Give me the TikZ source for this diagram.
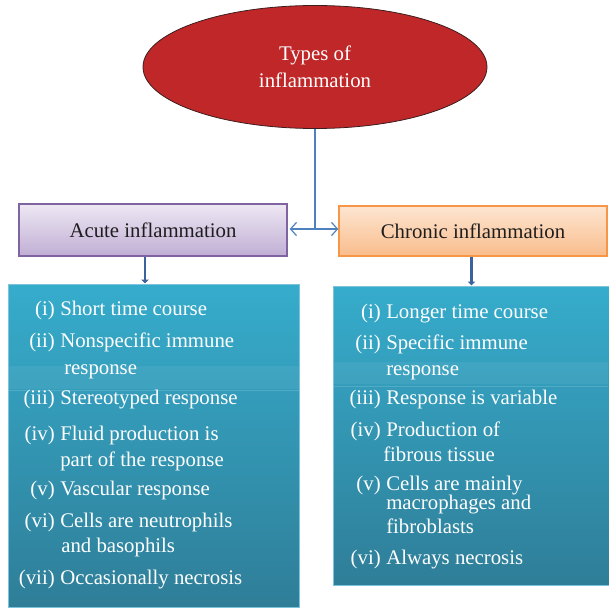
\documentclass[tikz,border=0pt]{standalone}
\usepackage{amsmath}
\usepackage{fontspec}
\setmainfont{Liberation Serif}
\usepackage{tikz}
\usetikzlibrary{shapes.geometric,arrows.meta}

\definecolor{typesred}{RGB}{192,39,41}
\definecolor{acutetop}{RGB}{238,232,244}
\definecolor{acutebot}{RGB}{192,174,212}
\definecolor{acuteedge}{RGB}{128,100,162}
\definecolor{chrontop}{RGB}{253,229,209}
\definecolor{chronbot}{RGB}{249,189,140}
\definecolor{chronedge}{RGB}{247,150,70}
\definecolor{listtop}{RGB}{54,172,204}
\definecolor{listbot}{RGB}{47,126,152}
\definecolor{listedge}{RGB}{125,195,218}
\definecolor{linkblue}{RGB}{79,129,189}
\definecolor{downblue}{RGB}{60,98,158}

\tikzset{
  headtext/.style={font=\fontsize{15.6}{20.25}\selectfont},
  listtext/.style={anchor=base west,inner sep=0pt,text=white,font=\fontsize{15.6}{19}\selectfont},
  listlabel/.style={listtext,anchor=base east},
}

\begin{document}
\begin{tikzpicture}[x=0.75pt,y=0.75pt,yscale=-1,xscale=1]
\useasboundingbox (0,0) rectangle (608,610);

%Shape: Ellipse
\node [ellipse,draw={rgb,255:red,60;green,30;blue,30},line width=0.6pt,fill=typesred,minimum width=258pt,minimum height=92.25pt,inner sep=0pt,headtext,text=white,align=center] (types) at (315,67) {Types of\\inflammation};

%Shape: Rectangle
\node [draw=acuteedge,line width=1.1pt,top color=acutetop,bottom color=acutebot,minimum width=201pt,minimum height=39pt,inner sep=0pt,headtext,text={rgb,255:red,30;green,30;blue,30}] (acute) at (153,230) {Acute inflammation};
%Shape: Rectangle
\node [draw=chronedge,line width=1.1pt,top color=chrontop,bottom color=chronbot,minimum width=201pt,minimum height=37.5pt,inner sep=0pt,headtext,text={rgb,255:red,30;green,30;blue,30}] (chronic) at (473,231) {Chronic inflammation};

%Shape: Rectangle
\node [draw=listedge,line width=0.75pt,top color=listtop,bottom color=listbot,minimum width=218.25pt,minimum height=242.25pt,inner sep=0pt] (acutelist) at (153.5,445.5) {};
%Shape: Rectangle
\node [draw=listedge,line width=0.75pt,top color=listtop,bottom color=listbot,minimum width=207.75pt,minimum height=224.25pt,inner sep=0pt] (chroniclist) at (471.5,435.5) {};

%Shape: Rectangle (light bands)
\fill [white,opacity=0.06] (8.5,366) rectangle (298.5,389);
\draw [white,opacity=0.15,line width=0.6pt] (8.5,390) -- (298.5,390);
\fill [white,opacity=0.06] (333.5,362) rectangle (608,384);
\draw [white,opacity=0.15,line width=0.6pt] (333.5,386) -- (608,386);

%Straight Lines
\coordinate (fork) at (315,229);
\draw [linkblue,line width=0.9pt] (types.south) -- (fork);
\draw [linkblue,line width=0.9pt,-{Straight Barb[length=4.5pt,width=10pt]}] (fork) -- ([xshift=1.5pt]fork -| acute.east);
\draw [linkblue,line width=0.9pt,-{Straight Barb[length=4.5pt,width=10pt]}] (fork) -- (fork -| chronic.west);
%Straight Lines
\draw [downblue,line width=2.2pt,-{Triangle[length=3pt,width=5.5pt]}] ([xshift=-6pt]acute.south) -- ([xshift=-6pt]acute.south |- acutelist.north);
\draw [downblue,line width=2.2pt,-{Triangle[length=3pt,width=5.5pt]}] (chronic.south -| chroniclist.north) -- (chroniclist.north);

% Text Node
\node [listlabel] (a1l) at (55,315) {(i)};
\node [listtext] (a1) at (60,315) {Short time course};
\node [listlabel] (a2l) at (55,347) {(ii)};
\node [listtext] (a2) at (60,347) {Nonspecific immune};
\node [listtext] (a2b) at (64,374) {response};
\node [listlabel] (a3l) at (55,404) {(iii)};
\node [listtext] (a3) at (60,404) {Stereotyped response};
\node [listlabel] (a4l) at (55,440) {(iv)};
\node [listtext] (a4) at (60,440) {Fluid production is};
\node [listtext] (a4b) at (60,466) {part of the response};
\node [listlabel] (a5l) at (55,495) {(v)};
\node [listtext] (a5) at (60,495) {Vascular response};
\node [listlabel] (a6l) at (55,527) {(vi)};
\node [listtext] (a6) at (60,527) {Cells are neutrophils};
\node [listtext] (a6b) at (61,552) {and basophils};
\node [listlabel] (a7l) at (55,584) {(vii)};
\node [listtext] (a7) at (60,584) {Occasionally necrosis};

% Text Node
\node [listlabel] (c1l) at (381,318) {(i)};
\node [listtext] (c1) at (386,318) {Longer time course};
\node [listlabel] (c2l) at (381,349) {(ii)};
\node [listtext] (c2) at (386,349) {Specific immune};
\node [listtext] (c2b) at (386,375) {response};
\node [listlabel] (c3l) at (381,404) {(iii)};
\node [listtext] (c3) at (386,404) {Response is variable};
\node [listlabel] (c4l) at (381,436) {(iv)};
\node [listtext] (c4) at (386,436) {Production of};
\node [listtext] (c4b) at (383,461) {fibrous tissue};
\node [listlabel] (c5l) at (381,490) {(v)};
\node [listtext] (c5) at (386,490) {Cells are mainly};
\node [listtext] (c5b) at (386,509) {macrophages and};
\node [listtext] (c5c) at (386,533) {fibroblasts};
\node [listlabel] (c6l) at (381,564) {(vi)};
\node [listtext] (c6) at (386,564) {Always necrosis};

\end{tikzpicture}
\end{document}
